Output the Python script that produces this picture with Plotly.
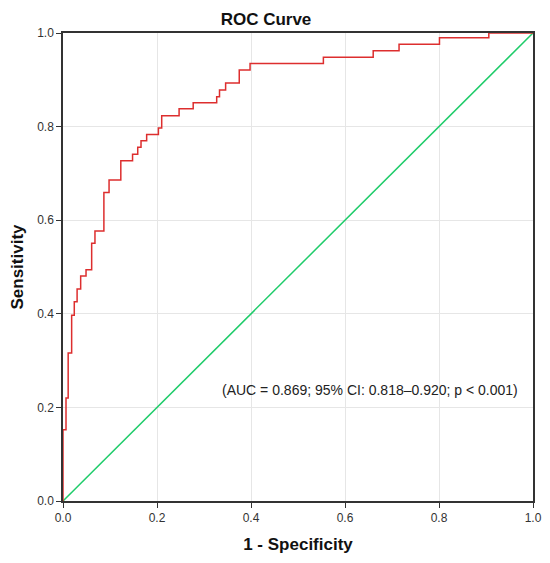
import plotly.graph_objects as go

fpr = [0.0, 0.0, 0.0064, 0.0064, 0.011, 0.011, 0.0184, 0.0184, 0.024, 0.024, 0.030, 0.030,
       0.0376, 0.0376, 0.049, 0.049, 0.061, 0.061, 0.068, 0.068, 0.087, 0.087, 0.098, 0.098,
       0.123, 0.123, 0.148, 0.148, 0.159, 0.159, 0.166, 0.166, 0.178, 0.178, 0.203, 0.203,
       0.210, 0.210, 0.247, 0.247, 0.277, 0.277, 0.327, 0.327, 0.333, 0.333, 0.346, 0.346,
       0.375, 0.375, 0.398, 0.398, 0.554, 0.554, 0.660, 0.660, 0.715, 0.715, 0.801, 0.801,
       0.906, 0.906, 1.0]
tpr = [0.0, 0.152, 0.152, 0.220, 0.220, 0.316, 0.316, 0.397, 0.397, 0.426, 0.426, 0.453,
       0.453, 0.481, 0.481, 0.494, 0.494, 0.551, 0.551, 0.577, 0.577, 0.659, 0.659, 0.686,
       0.686, 0.727, 0.727, 0.741, 0.741, 0.756, 0.756, 0.770, 0.770, 0.783, 0.783, 0.797,
       0.797, 0.823, 0.823, 0.838, 0.838, 0.851, 0.851, 0.864, 0.864, 0.878, 0.878, 0.893,
       0.893, 0.921, 0.921, 0.935, 0.935, 0.948, 0.948, 0.962, 0.962, 0.976, 0.976, 0.990,
       0.990, 1.0, 1.0]
ref_x = [0.0, 1.0]
ref_y = [0.0, 1.0]
tick_vals = [0.0, 0.2, 0.4, 0.6, 0.8, 1.0]
tick_text = ["0.0", "0.2", "0.4", "0.6", "0.8", "1.0"]
annot_text = "(AUC = 0.869; 95% CI: 0.818\u20130.920; p < 0.001)"

FONT = "Liberation Sans, Arial"

fig = go.Figure()
fig.add_trace(go.Scatter(x=ref_x, y=ref_y, mode="lines",
                         line=dict(color="#1fcc6a", width=1.5), showlegend=False))
fig.add_trace(go.Scatter(x=fpr, y=tpr, mode="lines",
                         line=dict(color="#dd2e2e", width=1.5), showlegend=False))

axis_common = dict(range=[0, 1], tickvals=tick_vals, ticktext=tick_text,
                   showgrid=True, gridcolor="#e6e6e6", gridwidth=1,
                   showline=True, linecolor="#333333", linewidth=1.5, mirror=True,
                   ticks="outside", ticklen=5, tickcolor="#333333", zeroline=False,
                   automargin=False,
                   tickfont=dict(family=FONT, size=12, color="#333333"))

fig.update_layout(
    width=542, height=555,
    margin=dict(l=55, r=17, t=25, b=62),
    paper_bgcolor="white", plot_bgcolor="white",
    title=dict(text="<b>ROC Curve</b>", x=0.476, xanchor="center", yref="container",
               y=0.9802, yanchor="middle", pad=dict(t=0, b=0),
               font=dict(family=FONT, size=17, color="#111111")),
    xaxis=dict(axis_common, title=dict(text="<b>1 - Specificity</b>", standoff=14,
                                       font=dict(family=FONT, size=17, color="#111111"))),
    yaxis=dict(axis_common, title=dict(text="<b>Sensitivity</b>", standoff=12,
                                       font=dict(family=FONT, size=17, color="#111111"))),
    annotations=[dict(x=0.653, y=0.237, xref="x", yref="y", text=annot_text, showarrow=False,
                      font=dict(family=FONT, size=14, color="#222222"))],
)

fig.write_html("out.html")
